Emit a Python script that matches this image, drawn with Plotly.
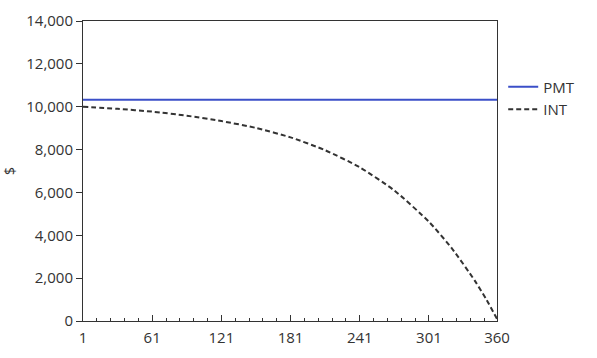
import plotly.graph_objects as go

months_pmt = [1, 360]
pmt_values = [10330, 10330]

months_int = [1, 31, 61, 91, 121, 151, 181, 211, 241, 271, 301, 321, 341, 351, 360]
int_values = [10000, 9900, 9770, 9580, 9330, 9010, 8570, 7970, 7170, 6090, 4630, 3380, 1860, 980, 100]

x_tick_vals = [1, 61, 121, 181, 241, 301, 360]
x_tick_text = ["1", "61", "121", "181", "241", "301", "360"]
y_tick_vals = [0, 2000, 4000, 6000, 8000, 10000, 12000, 14000]

FONT = "Open Sans"
TXT = "#333333"

fig = go.Figure()
fig.add_trace(go.Scatter(
    x=months_pmt, y=pmt_values, mode="lines", name="PMT",
    line=dict(color="#3b4fc8", width=2),
))
fig.add_trace(go.Scatter(
    x=months_int, y=int_values, mode="lines", name="INT",
    line=dict(color="#333333", width=2, dash="5px,3px", shape="spline", smoothing=0.6),
))

fig.update_layout(
    width=597, height=358,
    margin=dict(l=83, r=100, t=21, b=37),
    paper_bgcolor="white", plot_bgcolor="white",
    font=dict(family=FONT, size=15, color=TXT),
    showlegend=True,
    legend=dict(x=1.015, xanchor="left", y=0.835, yanchor="top",
                font=dict(family=FONT, size=15, color=TXT),
                bgcolor="rgba(0,0,0,0)", tracegroupgap=0, itemwidth=30),
)
fig.update_xaxes(
    range=[1, 360], tickmode="array", tickvals=x_tick_vals, ticktext=x_tick_text,
    ticks="inside", ticklen=6, tickcolor="#333", tickwidth=1,
    showline=True, linecolor="#333", linewidth=1, mirror=True,
    showgrid=False, zeroline=False, ticklabelstandoff=3, automargin=False,
    tickfont=dict(family=FONT, size=15, color=TXT),
    minor=dict(tickmode="linear", tick0=1, dtick=12, ticks="inside", ticklen=3,
               tickcolor="#333", showgrid=False),
)
fig.update_yaxes(
    range=[0, 14000], tickmode="array", tickvals=y_tick_vals, tickformat=",",
    ticks="outside", ticklen=6, tickcolor="#333", tickwidth=1,
    showline=True, linecolor="#333", linewidth=1, mirror=True,
    showgrid=False, zeroline=False, automargin=False,
    tickfont=dict(family=FONT, size=15, color=TXT),
    title=dict(text="$", font=dict(family=FONT, size=14, color=TXT), standoff=10),
)

fig.write_html("out.html")
